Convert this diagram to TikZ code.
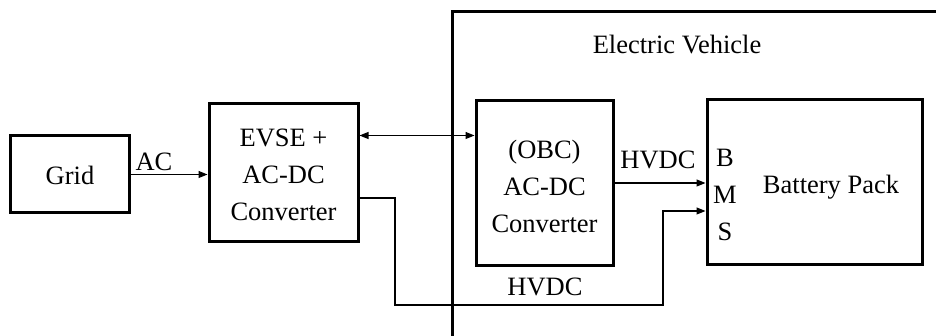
\documentclass[tikz,border=0pt]{standalone}
\usepackage{fontspec}
\setmainfont{Liberation Serif}
\usetikzlibrary{arrows.meta,calc}
\begin{document}
\begin{tikzpicture}[x=1pt,y=-1pt,
  box/.style={draw=black,line width=3pt,fill=none,inner sep=0pt},
  txt/.style={font=\fontsize{26.5}{37}\selectfont,align=center,inner sep=0pt},
  conn/.style={line width=1.1pt,-{Triangle[length=9pt,width=7pt]}},
  bidir/.style={line width=1.1pt,{Triangle[length=9pt,width=7pt]}-{Triangle[length=9pt,width=7pt]}}]
\useasboundingbox (0,0) rectangle (936,336);
\clip (0,0) rectangle (936,336);
\fill[white] (0,0) rectangle (936,336);
% Electric Vehicle enclosure (cropped)
\draw[line width=3pt] (452,380) -- (452,12) -- (960,12);
\node[txt] (evlabel) at (677,45) {Electric Vehicle};
% boxes
\node[box,minimum width=119pt,minimum height=77pt] (grid) at (69.5,174.5) {};
\node[txt] (gridtxt) at (70,175) {Grid};
\node[box,minimum width=149pt,minimum height=138pt] (evse) at (283.5,173) {};
\node[txt] (evsetxt) at (283.5,175) {EVSE +\\AC-DC\\Converter};
\node[box,minimum width=137pt,minimum height=165pt] (obc) at (544.5,183) {};
\node[txt] (obctxt) at (544.5,186) {(OBC)\\AC-DC\\Converter};
\node[box,minimum width=215pt,minimum height=165pt] (bat) at (814.5,182.5) {};
\node[txt] (battxt) at (831,187) {Battery Pack};
\node[txt] (bms) at (725,195) {B\\M\\S};
% connectors
\draw[conn] (grid.east) -- (grid.east -| evse.west);
\node[txt] (ac) at (154,162) {AC};
\coordinate (b1) at ([yshift=-33pt]evse.north east);
\draw[bidir] (b1) -- (b1 -| obc.west);
\draw[conn] (obc.east) -- (obc.east -| bat.west);
\node[txt] (hv1) at (658,160) {HVDC};
\coordinate (e1) at ([yshift=-25pt]evse.east);
\coordinate (j1) at (395,305);
\coordinate (j2) at (663,305);
\coordinate (t1) at ([yshift=-28.5pt]bat.west);
\draw[conn] (e1) -| (j1) -- (j2) |- (t1);
\node[txt] (hv2) at (545,287) {HVDC};
\end{tikzpicture}
\end{document}
